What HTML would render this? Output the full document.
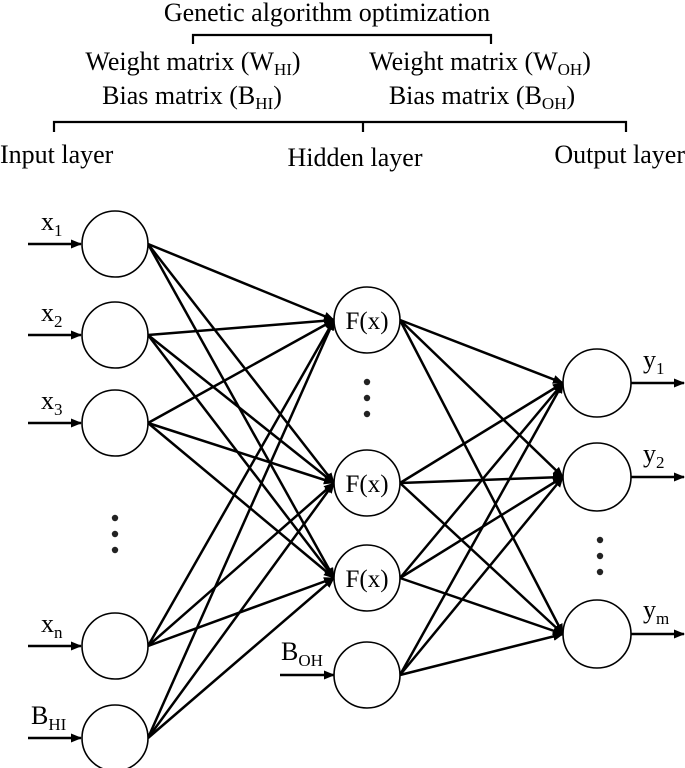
<!DOCTYPE html>
<html><head><meta charset="utf-8"><style>
html,body{margin:0;padding:0;background:#fff}
svg{display:block}
text{font-family:"Liberation Serif",serif;fill:#000}
</style></head><body>
<svg width="685" height="768" viewBox="0 0 685 768" xmlns="http://www.w3.org/2000/svg">
<defs><marker id="a" markerWidth="11" markerHeight="9" refX="10" refY="4.5" orient="auto" markerUnits="userSpaceOnUse"><path d="M0,0 L11,4.5 L0,9 z" fill="#000"/></marker></defs>
<text x="327" y="21" font-size="26" text-anchor="middle">Genetic algorithm optimization</text>
<path d="M193,44 V35 H491 V44" fill="none" stroke="#000" stroke-width="2.2"/>
<text x="193" y="70" font-size="26" text-anchor="middle">Weight matrix (W<tspan font-size="17" dy="5">HI</tspan><tspan dy="-5">)</tspan></text>
<text x="192" y="104" font-size="26" text-anchor="middle">Bias matrix (B<tspan font-size="17" dy="5">HI</tspan><tspan dy="-5">)</tspan></text>
<text x="480" y="70" font-size="26" text-anchor="middle">Weight matrix (W<tspan font-size="17" dy="5">OH</tspan><tspan dy="-5">)</tspan></text>
<text x="482" y="104" font-size="26" text-anchor="middle">Bias matrix (B<tspan font-size="17" dy="5">OH</tspan><tspan dy="-5">)</tspan></text>
<path d="M54,132 V122 H626 V132 M363,122 V132" fill="none" stroke="#000" stroke-width="2.2"/>
<text x="0" y="163" font-size="26">Input layer</text>
<text x="355" y="166" font-size="26" text-anchor="middle">Hidden layer</text>
<text x="685" y="163" font-size="26" text-anchor="end">Output layer</text>
<g stroke="#000" stroke-width="2.5" marker-end="url(#a)" fill="none">
<line x1="148" y1="244" x2="334" y2="320"/><line x1="148" y1="244" x2="334" y2="483"/><line x1="148" y1="244" x2="334" y2="578"/>
<line x1="148" y1="335" x2="334" y2="320"/><line x1="148" y1="335" x2="334" y2="483"/><line x1="148" y1="335" x2="334" y2="578"/>
<line x1="148" y1="423" x2="334" y2="320"/><line x1="148" y1="423" x2="334" y2="483"/><line x1="148" y1="423" x2="334" y2="578"/>
<line x1="148" y1="646" x2="334" y2="320"/><line x1="148" y1="646" x2="334" y2="483"/><line x1="148" y1="646" x2="334" y2="578"/>
<line x1="148" y1="738" x2="334" y2="320"/><line x1="148" y1="738" x2="334" y2="483"/><line x1="148" y1="738" x2="334" y2="578"/>
<line x1="400" y1="320" x2="563" y2="383"/><line x1="400" y1="320" x2="563" y2="477"/><line x1="400" y1="320" x2="563" y2="634"/>
<line x1="400" y1="483" x2="563" y2="383"/><line x1="400" y1="483" x2="563" y2="477"/><line x1="400" y1="483" x2="563" y2="634"/>
<line x1="400" y1="578" x2="563" y2="383"/><line x1="400" y1="578" x2="563" y2="477"/><line x1="400" y1="578" x2="563" y2="634"/>
<line x1="400" y1="675" x2="563" y2="383"/><line x1="400" y1="675" x2="563" y2="477"/><line x1="400" y1="675" x2="563" y2="634"/>
<line x1="28" y1="244" x2="81" y2="244"/><line x1="28" y1="335" x2="81" y2="335"/><line x1="28" y1="423" x2="81" y2="423"/>
<line x1="28" y1="646" x2="81" y2="646"/><line x1="28" y1="738" x2="81" y2="738"/>
<line x1="280" y1="675" x2="334" y2="675"/>
<line x1="631" y1="383" x2="684" y2="383"/><line x1="631" y1="477" x2="684" y2="477"/><line x1="631" y1="634" x2="684" y2="634"/>
</g>
<g fill="#fff" stroke="#000" stroke-width="1.6">
<circle cx="115" cy="244" r="33"/><circle cx="115" cy="335" r="33"/><circle cx="115" cy="423" r="33"/>
<circle cx="115" cy="646" r="33"/><circle cx="115" cy="738" r="33"/>
<circle cx="367" cy="320" r="33"/><circle cx="367" cy="483" r="33"/><circle cx="367" cy="578" r="33"/><circle cx="367" cy="675" r="33"/>
<circle cx="597" cy="383" r="34"/><circle cx="597" cy="477" r="34"/><circle cx="597" cy="634" r="34"/>
</g>
<g font-size="25" text-anchor="middle">
<text x="367" y="329">F(x)</text><text x="367" y="492">F(x)</text><text x="367" y="587">F(x)</text>
</g>
<g fill="#222">
<circle cx="115" cy="518" r="3.2"/><circle cx="115" cy="534" r="3.2"/><circle cx="115" cy="550" r="3.2"/>
<circle cx="367" cy="382" r="3.2"/><circle cx="367" cy="398" r="3.2"/><circle cx="367" cy="414" r="3.2"/>
<circle cx="600" cy="540" r="3.2"/><circle cx="600" cy="556" r="3.2"/><circle cx="600" cy="572" r="3.2"/>
</g>
<g font-size="26">
<text x="41" y="230">x<tspan font-size="17" dy="6">1</tspan></text>
<text x="41" y="321">x<tspan font-size="17" dy="6">2</tspan></text>
<text x="41" y="409">x<tspan font-size="17" dy="6">3</tspan></text>
<text x="41" y="632">x<tspan font-size="17" dy="6">n</tspan></text>
<text x="31" y="724">B<tspan font-size="17" dy="6">HI</tspan></text>
<text x="281" y="660">B<tspan font-size="17" dy="6">OH</tspan></text>
<text x="643" y="368">y<tspan font-size="17" dy="6">1</tspan></text>
<text x="643" y="462">y<tspan font-size="17" dy="6">2</tspan></text>
<text x="643" y="618">y<tspan font-size="17" dy="6">m</tspan></text>
</g>
</svg>
</body></html>
